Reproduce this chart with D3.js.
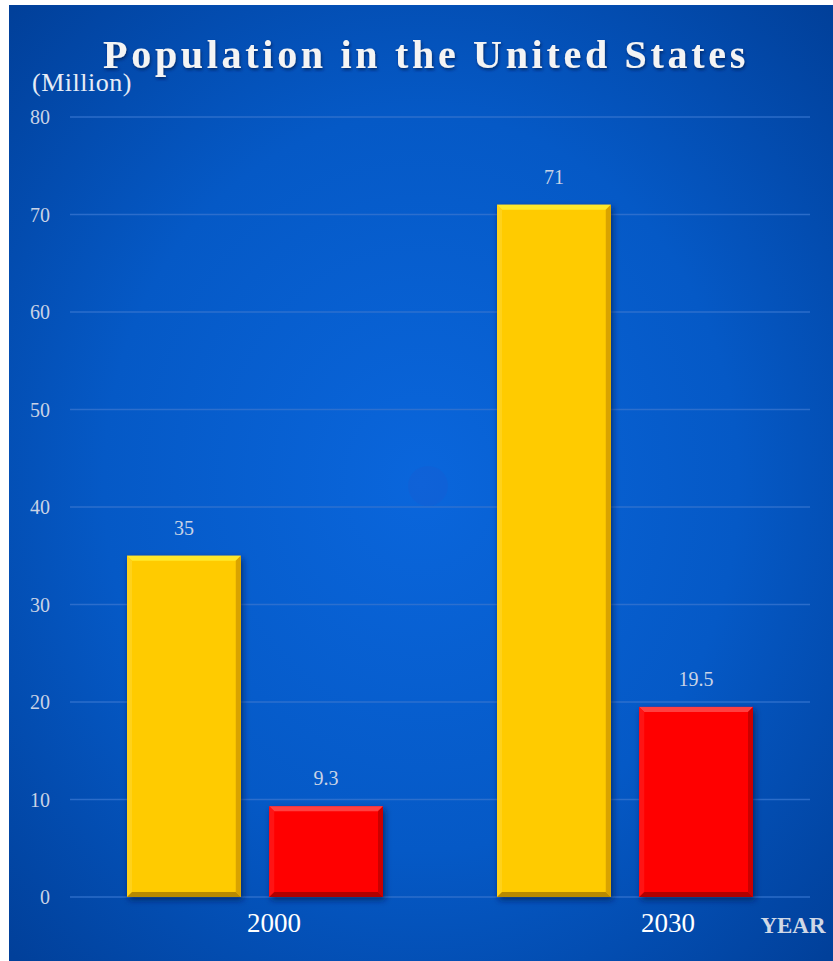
<!DOCTYPE html>
<html>
<head>
<meta charset="utf-8">
<script src="https://cdn.jsdelivr.net/npm/d3@7"></script>
<style>
  body { margin: 0; background: #fff; }
  svg { display: block; }
  text { font-family: "Liberation Serif", "DejaVu Serif", serif; }
</style>
</head>
<body>
<div id="chart"></div>
<script>
const years = ["2000", "2030"];
const seriesKeys = ["a", "b"];
const seriesA = [35, 71];
const seriesB = [9.3, 19.5];
const yTicks = [0, 10, 20, 30, 40, 50, 60, 70, 80];

const W = 833, H = 961;
const margin = { top: 117, right: 23, bottom: 64, left: 70 };
const width = W - margin.left - margin.right,
  height = H - margin.top - margin.bottom;

const data = years.map((y, i) => ({ year: y, a: seriesA[i], b: seriesB[i] }));

const svg = d3.select("#chart").append("svg")
  .attr("width", W)
  .attr("height", H);

const defs = svg.append("defs");

const bg = defs.append("radialGradient")
  .attr("id", "bg")
  .attr("cx", "50%").attr("cy", "50%").attr("r", "70%");
bg.append("stop").attr("offset", "0%").attr("stop-color", "#0a66dc");
bg.append("stop").attr("offset", "55%").attr("stop-color", "#0559c6");
bg.append("stop").attr("offset", "100%").attr("stop-color", "#01409a");

const glow = defs.append("filter").attr("id", "shadow")
  .attr("x", "-10%").attr("y", "-10%").attr("width", "130%").attr("height", "130%");
glow.append("feDropShadow")
  .attr("dx", 2).attr("dy", 3).attr("stdDeviation", 3)
  .attr("flood-color", "#001a50").attr("flood-opacity", 0.7);

const tshadow = defs.append("filter").attr("id", "tshadow");
tshadow.append("feDropShadow")
  .attr("dx", 1).attr("dy", 2).attr("stdDeviation", 1.5)
  .attr("flood-color", "#00205a").attr("flood-opacity", 0.8);

svg.append("rect")
  .attr("x", 9).attr("y", 5)
  .attr("width", W - 9).attr("height", H - 5)
  .attr("fill", "url(#bg)");

svg.append("circle")
  .attr("cx", 428).attr("cy", 486).attr("r", 20)
  .attr("fill", "#1a5cd0").attr("opacity", 0.35);

const g = svg.append("g")
  .attr("transform", `translate(${margin.left},${margin.top})`);

const y = d3.scaleLinear().domain([0, 80]).range([height, 0]);
const x0 = d3.scaleBand().domain(years).range([0, width]).paddingInner(0).paddingOuter(0);
const x1 = d3.scaleBand().domain(seriesKeys)
  .range([57, x0.bandwidth() - 57])
  .paddingInner(0.2);

const colors = {
  a: { base: "#ffcb05", light: "#ffe82a", dark: "#d9a300", side: "#ffd21a", bottom: "#b88a00" },
  b: { base: "#ff0000", light: "#ff4040", dark: "#cc0000", side: "#ff1414", bottom: "#b00000" }
};

// gridlines
g.append("g")
  .selectAll("line")
  .data(yTicks)
  .join("line")
  .attr("x1", 0).attr("x2", width)
  .attr("y1", (d) => y(d)).attr("y2", (d) => y(d))
  .attr("stroke", "#3674cf")
  .attr("stroke-width", 1.5)
  .attr("opacity", 0.8);

// y axis labels
g.append("g")
  .selectAll("text")
  .data(yTicks)
  .join("text")
  .attr("x", -20)
  .attr("y", (d) => y(d))
  .attr("dy", "0.35em")
  .attr("text-anchor", "end")
  .attr("fill", "#c9d3e6")
  .style("font-size", "20px")
  .text((d) => d);

// bars with bevel
const bev = 5;
const bars = [];
data.forEach((d) => {
  seriesKeys.forEach((k) => {
    bars.push({ year: d.year, key: k, value: d[k] });
  });
});

const barG = g.append("g").selectAll("g")
  .data(bars)
  .join("g")
  .attr("transform", (d) => `translate(${x0(d.year) + x1(d.key)},${y(d.value)})`);

barG.each(function (d) {
  const b = d3.select(this);
  const w = x1.bandwidth();
  const h = height - y(d.value);
  const c = colors[d.key];
  b.append("rect")
    .attr("width", w).attr("height", h)
    .attr("fill", c.base)
    .attr("filter", "url(#shadow)");
  // top bevel
  b.append("path")
    .attr("d", `M0,0 L${w},0 L${w - bev},${bev} L${bev},${bev} Z`)
    .attr("fill", c.light);
  // left bevel
  b.append("path")
    .attr("d", `M0,0 L${bev},${bev} L${bev},${h - bev} L0,${h} Z`)
    .attr("fill", c.side);
  // right bevel
  b.append("path")
    .attr("d", `M${w},0 L${w},${h} L${w - bev},${h - bev} L${w - bev},${bev} Z`)
    .attr("fill", c.dark);
  // bottom bevel
  b.append("path")
    .attr("d", `M0,${h} L${bev},${h - bev} L${w - bev},${h - bev} L${w},${h} Z`)
    .attr("fill", c.bottom);
});

// value labels
g.append("g").selectAll("text")
  .data(bars)
  .join("text")
  .attr("x", (d) => x0(d.year) + x1(d.key) + x1.bandwidth() / 2)
  .attr("y", (d) => y(d.value) - 28)
  .attr("dy", "0.35em")
  .attr("text-anchor", "middle")
  .attr("fill", "#c9d3e6")
  .style("font-size", "20px")
  .text((d) => d.value);

// category labels
const catShift = [19, 43];
g.append("g").selectAll("text")
  .data(years)
  .join("text")
  .attr("x", (d, i) => x0(d) + x0.bandwidth() / 2 + catShift[i])
  .attr("y", height + 26)
  .attr("dy", "0.35em")
  .attr("text-anchor", "middle")
  .attr("fill", "#ffffff")
  .style("font-size", "27px")
  .text((d) => d);

svg.append("text")
  .attr("x", 793)
  .attr("y", 925)
  .attr("dy", "0.35em")
  .attr("text-anchor", "middle")
  .attr("fill", "#d0d8e6")
  .style("font-size", "23px")
  .style("font-weight", "bold")
  .text("YEAR");

svg.append("text")
  .attr("x", 82)
  .attr("y", 82)
  .attr("dy", "0.35em")
  .attr("text-anchor", "middle")
  .attr("fill", "#e6ecf6")
  .style("font-size", "26px")
  .style("letter-spacing", "0.5px")
  .text("(Million)");

svg.append("text")
  .attr("x", 426)
  .attr("y", 54)
  .attr("dy", "0.35em")
  .attr("text-anchor", "middle")
  .attr("fill", "#f4f4f4")
  .attr("filter", "url(#tshadow)")
  .style("font-size", "40px")
  .style("font-weight", "bold")
  .style("letter-spacing", "3.7px")
  .text("Population in the United States");
</script>
</body>
</html>
